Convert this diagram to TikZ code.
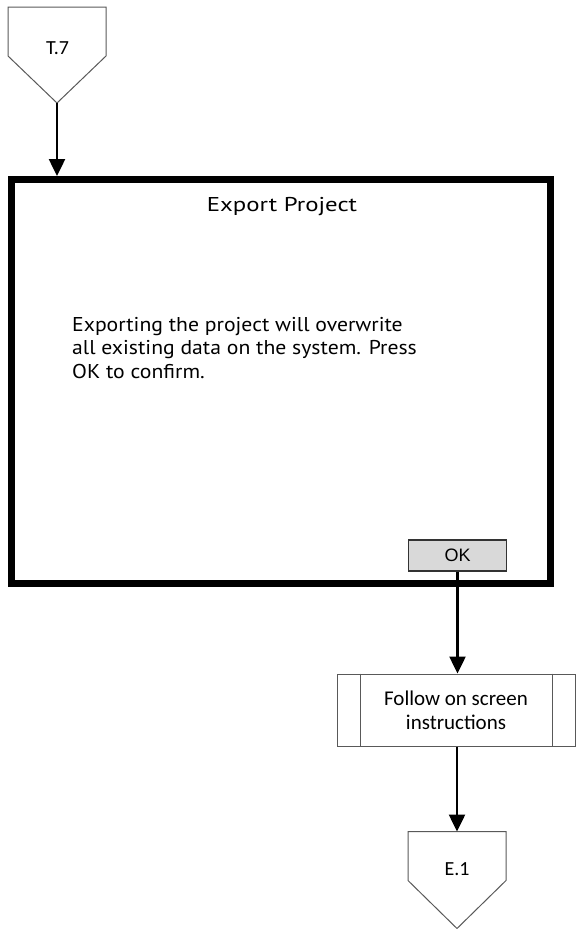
\documentclass[tikz,border=0pt]{standalone}
\usepackage{fontspec}
\setmainfont{PT Sans}
\newfontfamily\calibrifont{Carlito}
\newfontfamily\arialfont{Liberation Sans}
\newfontfamily\titlefont[FakeStretch=1.24]{PT Sans}
\newfontfamily\messagefont[FakeStretch=1.085]{PT Sans}
\usetikzlibrary{arrows.meta, positioning, calc}
\definecolor{chartLine}{RGB}{89,89,89}
\definecolor{buttonGrayBg}{RGB}{217,217,217}
\tikzset{
    chart/.style={x=1pt, y=-1pt, line join=miter},
    offpage/.style={minimum width=98pt, minimum height=49pt, inner sep=0pt,
                    outer sep=0pt},
    offpagelabel/.style={inner sep=0pt, anchor=base,
                         font=\calibrifont\fontsize{20}{24}\selectfont},
    outline/.style={draw=chartLine, line width=1pt},
    dialog/.style={draw=black, line width=7pt, minimum width=539pt,
                   minimum height=404pt},
    dialogtitle/.style={inner sep=0pt, anchor=base,
                        font=\titlefont\fontsize{20}{24}\selectfont},
    dialogtext/.style={inner sep=0pt, anchor=north west, align=left,
                       font=\messagefont\fontsize{20}{23.5}\selectfont},
    button/.style={draw=black!80, line width=1.5pt, fill=buttonGrayBg,
                   minimum width=98pt, minimum height=31pt,
                   font=\arialfont\fontsize{18}{21}\selectfont},
    predefined/.style={draw=chartLine, line width=1pt, minimum width=238pt,
                       minimum height=72pt, align=center,
                       font=\calibrifont\fontsize{21}{24}\selectfont},
    flow/.style={-{Triangle[length=17pt, width=16pt]}, line width=2.5pt},
}

\begin{document}
\begin{tikzpicture}[chart]
\useasboundingbox (0,0) rectangle (576,929);

% ─── Entree depuis T.7 ──────────────────────────────────────────────────
\node[offpage] (t7) at (57,31.5) {};
\coordinate (t7tip) at ($(t7.south)+(0,47)$);
\draw[outline] (t7.north west) -- (t7.north east) -- (t7.south east)
    -- (t7tip) -- (t7.south west) -- cycle;
\node[offpagelabel] (t7label) at (57.5,54) {T.7};

% ─── Fenetre de dialogue ────────────────────────────────────────────────
\node[dialog] (screen) at (281,381.5) {};
\node[dialogtitle] (title) at (282,211) {Export Project};
\node[dialogtext]  (message) at (72,317)
    {Exporting the project will overwrite\\all existing data on the system. Press\\OK to confirm.};
\node[button] (ok) at (457.5,555.5) {OK};

\draw[flow] (t7tip) -- (t7tip |- screen.north);

% ─── Suite du processus ─────────────────────────────────────────────────
\node[predefined] (follow) at (456,710) {Follow on screen\\instructions};
\draw[outline] ($(follow.north west)+(24,0)$) -- ($(follow.south west)+(24,0)$);
\draw[outline] ($(follow.north east)+(-23,0)$) -- ($(follow.south east)+(-23,0)$);

\draw[flow] (ok.south) -- (ok.south |- follow.north);

% ─── Sortie vers E.1 ────────────────────────────────────────────────────
\node[offpage] (e1) at (457,856) {};
\coordinate (e1tip) at ($(e1.south)+(0,48)$);
\draw[outline] (e1.north west) -- (e1.north east) -- (e1.south east)
    -- (e1tip) -- (e1.south west) -- cycle;
\node[offpagelabel] (e1label) at (457,875) {E.1};

\draw[flow] (e1.north |- follow.south) -- (e1.north);

\end{tikzpicture}
\end{document}
